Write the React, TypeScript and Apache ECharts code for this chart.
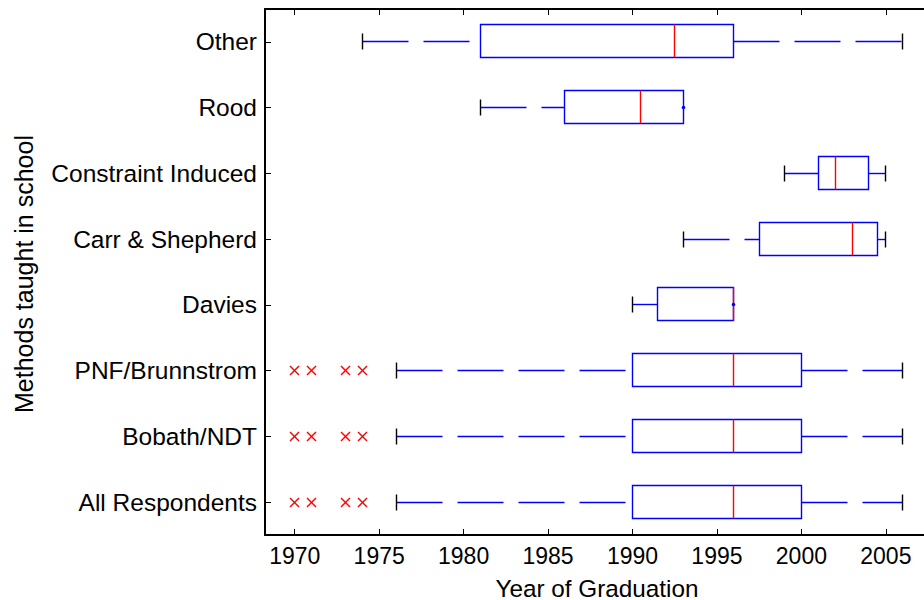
import React, { useEffect, useRef } from "react";
import * as echarts from "echarts";

const categories = [
  "All Respondents",
  "Bobath/NDT",
  "PNF/Brunnstrom",
  "Davies",
  "Carr & Shepherd",
  "Constraint Induced",
  "Rood",
  "Other",
];
const lowerWhisker = [1976, 1976, 1976, 1990, 1993, 1999, 1981, 1974];
const q1 = [1990, 1990, 1990, 1991.5, 1997.5, 2001, 1986, 1981];
const median = [1996, 1996, 1996, 1996, 2003, 2002, 1990.5, 1992.5];
const q3 = [2000, 2000, 2000, 1996, 2004.5, 2004, 1993, 1996];
const upperWhisker = [2006, 2006, 2006, 1996, 2005, 2005, 1993, 2006];
const outlierYears: number[][] = [
  [1970, 1971, 1973, 1974],
  [1970, 1971, 1973, 1974],
  [1970, 1971, 1973, 1974],
  [],
  [],
  [],
  [],
  [],
];
const xTicks = [1970, 1975, 1980, 1985, 1990, 1995, 2000, 2005];
const xTitle = "Year of Graduation";
const yTitle = "Methods taught in school";

const FONT = "'Liberation Sans', Arial, Helvetica, sans-serif";
const BLUE = "#0000ff";
const RED = "#ff0000";
const LW = 1.4;

const snap = (v: number) => Math.round(v - 0.5) + 0.5;

export default function App() {
  const ref = useRef<HTMLDivElement>(null);
  useEffect(() => {
    if (!ref.current) return;
    const chart = echarts.init(ref.current, undefined, { renderer: "svg" });

    const boxData = categories.map((_, i) => [
      i,
      lowerWhisker[i],
      q1[i],
      median[i],
      q3[i],
      upperWhisker[i],
    ]);
    const outlierData: number[][] = [];
    outlierYears.forEach((ys, i) => ys.forEach((y) => outlierData.push([i, y])));

    const xMin = 1968.24;
    const xMax = 2007.26;

    const option: any = {
      animation: false,
      backgroundColor: "#ffffff",
      grid: { left: 265, top: 9, right: 0, height: 526, containLabel: false },
      xAxis: [
        {
          type: "value",
          position: "bottom",
          min: xMin,
          max: xMax,
          axisLine: { show: true, onZero: false, lineStyle: { color: "#000", width: 2 } },
          axisTick: {
            show: true,
            inside: true,
            length: 6,
            customValues: xTicks,
            lineStyle: { color: "#000", width: 1 },
          },
          axisLabel: {
            show: true,
            customValues: xTicks,
            fontSize: 23,
            color: "#000",
            margin: 9,
            fontFamily: FONT,
            formatter: (v: number) => String(Math.round(v)),
          },
          splitLine: { show: false },
        },
        {
          type: "value",
          position: "top",
          min: xMin,
          max: xMax,
          axisLine: { show: true, onZero: false, lineStyle: { color: "#000", width: 2 } },
          axisTick: {
            show: true,
            inside: true,
            length: 6,
            customValues: xTicks,
            lineStyle: { color: "#000", width: 1 },
          },
          axisLabel: { show: false },
          splitLine: { show: false },
        },
      ],
      yAxis: {
        type: "category",
        data: categories,
        axisLine: { show: true, onZero: false, lineStyle: { color: "#000", width: 2 } },
        axisTick: {
          show: true,
          inside: true,
          alignWithLabel: true,
          length: 6,
          lineStyle: { color: "#000", width: 1 },
        },
        axisLabel: { fontSize: 24.5, color: "#000", margin: 8, fontFamily: FONT },
        splitLine: { show: false },
      },
      graphic: [
        {
          type: "text",
          x: 597,
          y: 588,
          style: {
            text: xTitle,
            fontSize: 24.3,
            fontFamily: FONT,
            fill: "#000",
            textAlign: "center",
            textVerticalAlign: "middle",
          },
        },
        {
          type: "text",
          x: 24,
          y: 274,
          rotation: Math.PI / 2,
          style: {
            text: yTitle,
            fontSize: 25,
            fontFamily: FONT,
            fill: "#000",
            textAlign: "center",
            textVerticalAlign: "middle",
          },
        },
      ],
      series: [
        {
          type: "custom",
          name: "box",
          xAxisIndex: 0,
          yAxisIndex: 0,
          encode: { x: [1, 2, 3, 4, 5], y: 0 },
          data: boxData,
          renderItem: (params: any, api: any) => {
            const c = api.value(0);
            const xLo = snap(api.coord([api.value(1), c])[0]);
            const xQ1 = snap(api.coord([api.value(2), c])[0]);
            const xMed = snap(api.coord([api.value(3), c])[0]);
            const xQ3 = snap(api.coord([api.value(4), c])[0]);
            const xHi = snap(api.coord([api.value(5), c])[0]);
            const band = api.size([0, 1])[1];
            const bh = Math.round(band * 0.5);
            const ch = Math.round(band * 0.25);
            const y = snap(api.coord([api.value(1), c])[1]);
            const top = y - Math.round(bh / 2);
            const children: any[] = [];
            const dash = [46, 15];
            if (xQ1 - xLo > 0.5) {
              children.push({
                type: "line",
                shape: { x1: xLo, y1: y, x2: xQ1, y2: y },
                style: { stroke: BLUE, lineWidth: LW, lineDash: dash },
              });
              children.push({
                type: "line",
                shape: { x1: xLo, y1: y - ch / 2, x2: xLo, y2: y + ch / 2 },
                style: { stroke: "#000", lineWidth: LW },
              });
            }
            if (xHi - xQ3 > 0.5) {
              children.push({
                type: "line",
                shape: { x1: xQ3, y1: y, x2: xHi, y2: y },
                style: { stroke: BLUE, lineWidth: LW, lineDash: dash },
              });
              children.push({
                type: "line",
                shape: { x1: xHi, y1: y - ch / 2, x2: xHi, y2: y + ch / 2 },
                style: { stroke: "#000", lineWidth: LW },
              });
            }
            children.push({
              type: "rect",
              shape: { x: xQ1, y: top, width: xQ3 - xQ1, height: bh },
              style: { fill: "none", stroke: BLUE, lineWidth: LW },
            });
            children.push({
              type: "line",
              shape: { x1: xMed, y1: top, x2: xMed, y2: top + bh },
              style: { stroke: RED, lineWidth: LW },
            });
            if (xHi - xQ3 <= 0.5) {
              children.push({
                type: "circle",
                shape: { cx: xHi, cy: y, r: 1.8 },
                style: { fill: BLUE },
              });
            }
            return { type: "group", children };
          },
        },
        {
          type: "custom",
          name: "outliers",
          xAxisIndex: 0,
          yAxisIndex: 0,
          encode: { x: 1, y: 0 },
          data: outlierData,
          renderItem: (params: any, api: any) => {
            const p = api.coord([api.value(1), api.value(0)]);
            const s = 4.5;
            const cx = snap(p[0]);
            const cy = snap(p[1]);
            return {
              type: "group",
              children: [
                {
                  type: "line",
                  shape: { x1: cx - s, y1: cy - s, x2: cx + s, y2: cy + s },
                  style: { stroke: RED, lineWidth: LW },
                },
                {
                  type: "line",
                  shape: { x1: cx - s, y1: cy + s, x2: cx + s, y2: cy - s },
                  style: { stroke: RED, lineWidth: LW },
                },
              ],
            };
          },
        },
      ],
    };
    chart.setOption(option);
    return () => chart.dispose();
  }, []);
  return (
    <div
      ref={ref}
      style={{ position: "fixed", left: 0, top: 0, width: 924, height: 600 }}
    />
  );
}
